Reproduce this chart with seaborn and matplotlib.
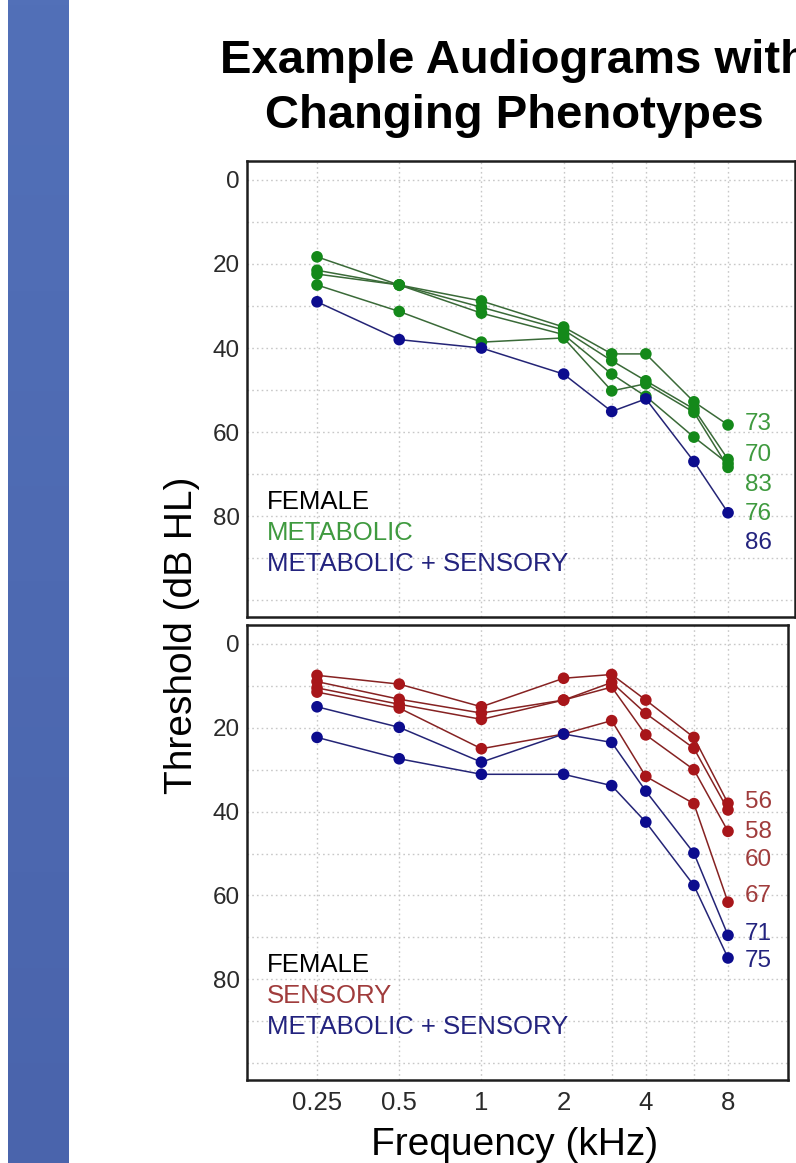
import numpy as np
import pandas as pd
import seaborn as sns
import matplotlib
matplotlib.use('Agg')
import matplotlib.pyplot as plt
from matplotlib.ticker import FixedLocator, NullFormatter

# audiogram frequencies (kHz)
freqs = [0.25, 0.5, 1, 2, 3, 4, 6, 8]
tick_freqs = [0.25, 0.5, 1, 2, 4, 8]
tick_labels = ['0.25', '0.5', '1', '2', '4', '8']

# top panel: metabolic and metabolic + sensory (thresholds in dB HL)
met_73 = [18.3, 25.0, 28.8, 35.0, 41.4, 41.4, 52.8, 58.3]
met_70 = [21.5, 25.0, 30.3, 35.7, 43.0, 47.8, 54.5, 66.5]
met_83 = [22.4, 25.0, 31.7, 36.8, 46.2, 51.5, 61.2, 67.5]
met_76 = [25.0, 31.3, 38.6, 37.6, 50.2, 48.5, 55.3, 68.4]
ms_86 = [29.0, 38.0, 40.0, 46.2, 55.1, 52.1, 67.0, 79.2]
top_ages = ['73', '70', '83', '76', '86']
top_age_groups = ['met', 'met', 'met', 'met', 'ms']

# bottom panel: sensory and metabolic + sensory
sen_56 = [7.5, 9.6, 15.0, 8.2, 7.3, 13.4, 22.3, 38.0]
sen_58 = [9.0, 13.2, 16.5, 13.4, 9.2, 16.6, 24.9, 39.6]
sen_60 = [10.5, 14.4, 18.0, 13.4, 10.3, 21.7, 30.0, 44.7]
sen_67 = [11.5, 15.3, 25.0, 21.5, 18.3, 31.6, 38.1, 61.6]
ms_71 = [15.0, 19.9, 28.2, 21.5, 23.5, 35.1, 49.9, 69.5]
ms_75 = [22.3, 27.4, 31.1, 31.1, 33.8, 42.5, 57.6, 74.9]
bot_ages = ['56', '58', '60', '67', '71', '75']
bot_age_groups = ['sen', 'sen', 'sen', 'sen', 'ms', 'ms']

# colours
dot_col = {'met': '#14891a', 'sen': '#a8161a', 'ms': '#0c0c8e'}
line_col = {'met': '#3a6a38', 'sen': '#862222', 'ms': '#242476'}
text_col = {'met': '#3f9a3f', 'sen': '#a03c3c', 'ms': '#23237e', 'female': '#000000'}

# where the age labels sit (dB HL)
top_label_y = [58.0, 65.5, 72.6, 79.4, 86.5]
bot_label_y = [37.6, 44.8, 51.5, 60.2, 69.3, 75.7]


def panel_df(subjects):
    rows = []
    for name, group, vals in subjects:
        for f, v in zip(freqs, vals):
            rows.append({'freq': f, 'threshold': v, 'subject': name, 'group': group})
    return pd.DataFrame(rows)


df_top = panel_df([('73', 'met', met_73), ('70', 'met', met_70), ('83', 'met', met_83),
                   ('76', 'met', met_76), ('86', 'ms', ms_86)])
df_bot = panel_df([('56', 'sen', sen_56), ('58', 'sen', sen_58), ('60', 'sen', sen_60),
                   ('67', 'sen', sen_67), ('71', 'ms', ms_71), ('75', 'ms', ms_75)])

sns.set_style('white')
plt.rcParams['font.family'] = ['Liberation Sans', 'DejaVu Sans']
plt.rcParams['text.color'] = 'black'

W, H = 796, 1163
fig = plt.figure(figsize=(W / 100, H / 100), dpi=100)

# blue band on the left
band = fig.add_axes([8 / W, 0, 61 / W, 1])
grad = np.linspace(0, 1, 256).reshape(-1, 1)
band.imshow(grad, aspect='auto', cmap=matplotlib.colors.LinearSegmentedColormap.from_list(
    'b', ['#5270b8', '#4a64ac']), extent=[0, 1, 0, 1], origin='upper')
band.axis('off')

ax_top = fig.add_axes([247 / W, 1 - 617 / H, (795 - 247) / W, 456 / H])
ax_bot = fig.add_axes([247 / W, 1 - 1080 / H, (788 - 247) / W, 455 / H])


def style_axes(ax, xmax, show_labels):
    ax.set_xscale('log')
    ax.set_xlim(0.1385, xmax)
    ax.set_ylim(104, -4.5)
    ax.xaxis.set_major_locator(FixedLocator(tick_freqs))
    ax.xaxis.set_minor_locator(FixedLocator([3, 6]))
    ax.xaxis.set_minor_formatter(NullFormatter())
    if show_labels:
        ax.set_xticklabels(tick_labels)
    else:
        ax.set_xticklabels([])
    ax.yaxis.set_major_locator(FixedLocator([0, 20, 40, 60, 80]))
    ax.yaxis.set_minor_locator(FixedLocator([10, 30, 50, 70, 90, 100]))
    ax.tick_params(axis='both', which='major', direction='in', length=7, width=1.4,
                   color='#222222', labelsize=17.5, labelcolor='#2a2a2a', pad=5)
    ax.tick_params(axis='y', which='minor', direction='in', length=4, width=1.0, color='#555555')
    ax.tick_params(axis='x', which='minor', length=0)
    ax.tick_params(axis='x', which='major', pad=8, labelsize=18.5)
    ax.grid(True, which='both', color='#c8c8c8', linestyle=(0, (1.2, 2.2)), linewidth=1.0)
    for sp in ax.spines.values():
        sp.set_visible(True)
        sp.set_color('#1e1e1e')
        sp.set_linewidth(1.8)
    ax.set_xlabel('')
    ax.set_ylabel('')


def draw_panel(ax, df):
    sns.lineplot(data=df, x='freq', y='threshold', hue='group', units='subject',
                 estimator=None, sort=False, palette=line_col, linewidth=1.1,
                 legend=False, ax=ax, zorder=2)
    sns.scatterplot(data=df, x='freq', y='threshold', hue='group', palette=dot_col,
                    s=70, linewidth=0, legend=False, ax=ax, zorder=3)


draw_panel(ax_top, df_top)
draw_panel(ax_bot, df_bot)
style_axes(ax_top, 14.07, False)
style_axes(ax_bot, 13.27, True)

# age labels at the right end of each curve
for ax, ages, groups, ys in [(ax_top, top_ages, top_age_groups, top_label_y),
                             (ax_bot, bot_ages, bot_age_groups, bot_label_y)]:
    for a, g, y in zip(ages, groups, ys):
        ax.text(9.2, y, a, color=text_col[g], fontsize=17.5, ha='left', va='center')

# in-panel legends
leg_top = [('FEMALE', 'female'), ('METABOLIC', 'met'), ('METABOLIC + SENSORY', 'ms')]
leg_bot = [('FEMALE', 'female'), ('SENSORY', 'sen'), ('METABOLIC + SENSORY', 'ms')]
for ax, items in [(ax_top, leg_top), (ax_bot, leg_bot)]:
    for i, (txt, g) in enumerate(items):
        ax.text(0.037, 0.252 - i * 0.068, txt, transform=ax.transAxes, color=text_col[g],
                fontsize=18.5, ha='left', va='center')

fig.text(514 / W, 1 - 73 / H, 'Example Audiograms with', fontsize=34, weight='bold',
         ha='center', va='baseline', color='black')
fig.text(514 / W, 1 - 128 / H, 'Changing Phenotypes', fontsize=34, weight='bold',
         ha='center', va='baseline', color='black')
fig.text(182 / W, 1 - 635 / H, 'Threshold (dB HL)', fontsize=28, rotation=90,
         ha='center', va='center', color='black')
fig.text(515 / W, 1 - 1155 / H, 'Frequency (kHz)', fontsize=28, ha='center', va='baseline',
         color='black')

fig.savefig('out.png', dpi=100)
